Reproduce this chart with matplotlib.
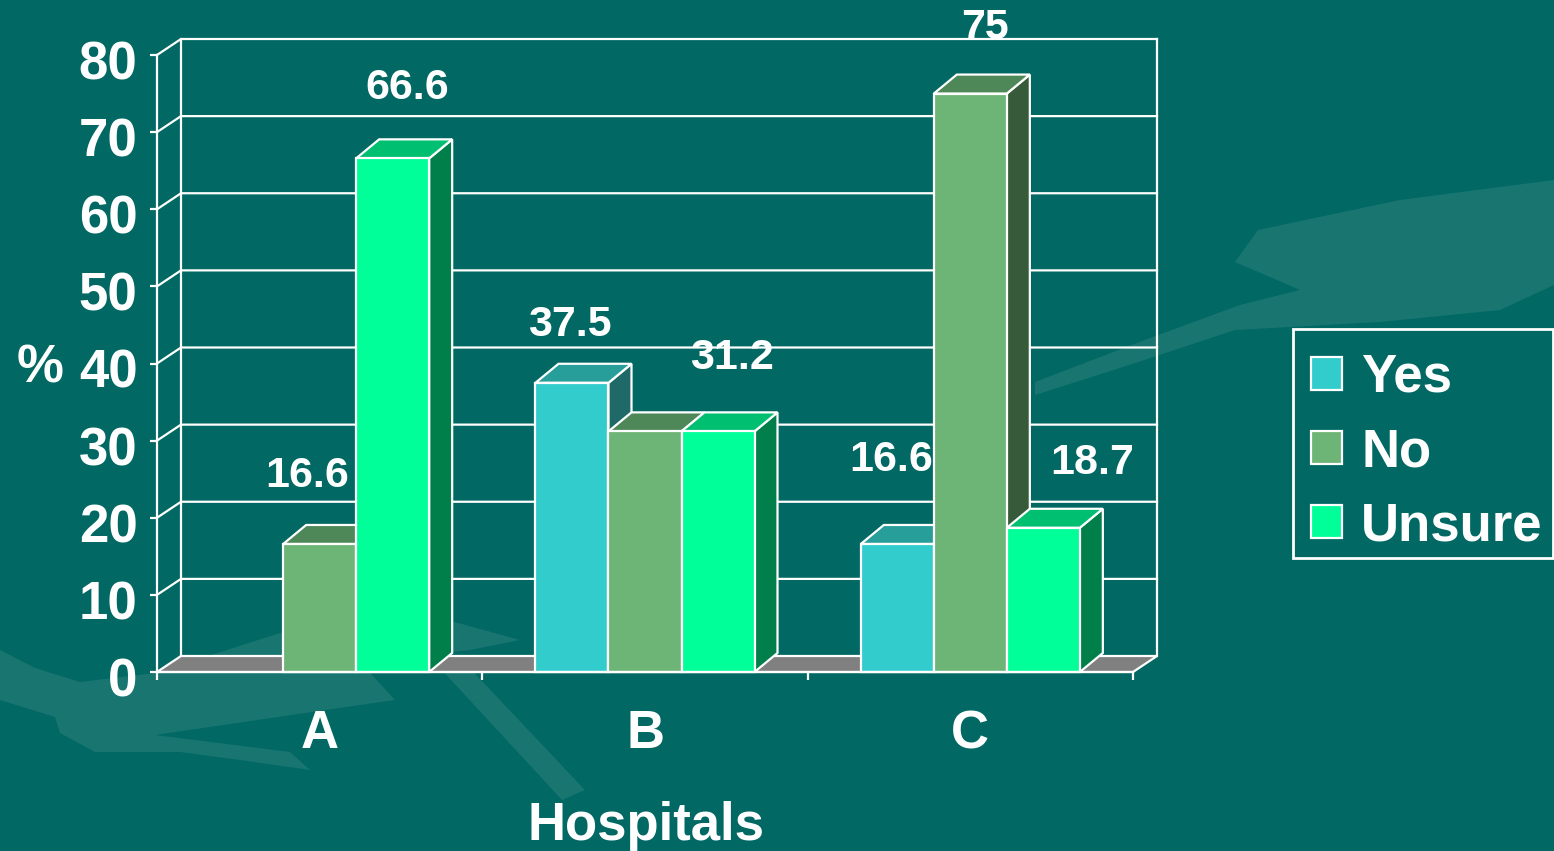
import matplotlib
matplotlib.use("Agg")
import matplotlib.pyplot as plt
from matplotlib.patches import Polygon, Rectangle, Patch
from matplotlib.transforms import ScaledTranslation

plt.rcParams['font.family'] = ['Liberation Sans', 'DejaVu Sans']

# ---------------- data ----------------
categories = ['A', 'B', 'C']
series_names = ['Yes', 'No', 'Unsure']
yes_vals = [0, 37.5, 16.6]
no_vals = [16.6, 31.2, 75]
unsure_vals = [66.6, 31.2, 18.7]
yes_labels = ['', '37.5', '16.6']
no_labels = ['16.6', '', '75']
unsure_labels = ['66.6', '31.2', '18.7']
y_ticks = [0, 10, 20, 30, 40, 50, 60, 70, 80]
x_title = 'Hospitals'
y_title = '%'

# ---------------- layout / style ----------------
W, H = 1554, 851
BG = '#016863'
DECO = '#217a75'
FS = 38
front_cols = ['#33CCCC', '#6DB577', '#00FF99']
top_cols = ['#279E9A', '#4F8858', '#00BF70']
side_cols = ['#1F6A68', '#375B3A', '#007F4A']
# label offsets in pixels (dx, dy) relative to bar top centre
yes_off = [(0, 0), (-2, 58), (-6, 84)]
no_off = [(-13, 68), (0, 0), (15, 66)]
unsure_off = [(15, 70), (14, 73), (49, 65)]

fig = plt.figure(figsize=(W / 100, H / 100), dpi=100, facecolor=BG)

# subtle background decoration (behind the chart)
deco = [
    [(1035, 395), (1035, 382), (1150, 338), (1240, 305), (1300, 290), (1235, 262), (1258, 230),
     (1400, 200), (1554, 180), (1554, 285), (1500, 310), (1380, 322), (1235, 330), (1120, 368)],
    [(0, 650), (35, 668), (80, 682), (155, 673), (280, 633), (360, 662), (395, 700), (360, 705),
     (155, 735), (290, 752), (310, 770), (240, 760), (180, 752), (95, 752), (60, 733), (55, 717), (0, 700)],
    [(440, 668), (462, 660), (585, 790), (562, 800)],
    [(280, 633), (440, 618), (520, 640), (470, 650), (360, 662)],
]
for poly in deco:
    fig.patches.append(Polygon([(x / W, 1 - y / H) for x, y in poly], closed=True,
                               transform=fig.transFigure, facecolor=DECO, alpha=0.75,
                               edgecolor='none', zorder=-5))

ax = fig.add_axes([157 / W, (H - 672) / H, 976 / W, 617 / H])
ax.set_zorder(2)
ax.set_facecolor('none')
ax.set_xlim(0, 3)
ax.set_ylim(0, 80)

pxx = 976 / 3.0
pxy = 617 / 80.0
wdx, wdy = 24 / pxx, 16 / pxy     # wall/floor depth
bdx, bdy = 23 / pxx, 19 / pxy     # bar depth
gap = 0.1634
bw = 0.2244
lw = 1.6

# back wall gridlines
for v in y_ticks[1:]:
    ax.plot([0, wdx, 3 + wdx], [v, v + wdy, v + wdy], color='white', lw=lw, zorder=1, clip_on=False)
for xb in [wdx, 3 + wdx]:
    ax.plot([xb, xb], [wdy, 80 + wdy], color='white', lw=lw, zorder=1, clip_on=False)

# floor
ax.add_patch(Polygon([(0, 0), (3, 0), (3 + wdx, wdy), (wdx, wdy)], closed=True,
                     facecolor='#808080', edgecolor='white', lw=lw, zorder=2, clip_on=False))

all_vals = [yes_vals, no_vals, unsure_vals]
all_labels = [yes_labels, no_labels, unsure_labels]
all_offs = [yes_off, no_off, unsure_off]

z = 3
for i in range(len(categories)):
    for j in range(3):
        v = all_vals[j][i]
        if v <= 0:
            continue
        x0 = i + gap + j * bw
        ax.add_patch(Polygon([(x0 + bw, 0), (x0 + bw + bdx, bdy), (x0 + bw + bdx, v + bdy), (x0 + bw, v)],
                             closed=True, facecolor=side_cols[j], edgecolor='white', lw=lw,
                             zorder=z, clip_on=False))
        ax.add_patch(Polygon([(x0, v), (x0 + bw, v), (x0 + bw + bdx, v + bdy), (x0 + bdx, v + bdy)],
                             closed=True, facecolor=top_cols[j], edgecolor='white', lw=lw,
                             zorder=z, clip_on=False))
        ax.add_patch(Rectangle((x0, 0), bw, v, facecolor=front_cols[j], edgecolor='white', lw=lw,
                               zorder=z, clip_on=False))
        z += 1

for i in range(len(categories)):
    for j in range(3):
        t = all_labels[j][i]
        if not t:
            continue
        v = all_vals[j][i]
        x0 = i + gap + j * bw
        ax.annotate(t, xy=(x0 + bw / 2, v), xytext=all_offs[j][i], textcoords='offset pixels',
                    ha='center', va='center', fontsize=31, fontweight='bold', color='white',
                    zorder=60, annotation_clip=False)

# axes styling
for s in ['top', 'right']:
    ax.spines[s].set_visible(False)
for s in ['left', 'bottom']:
    ax.spines[s].set_color('white')
    ax.spines[s].set_linewidth(lw)
    ax.spines[s].set_zorder(40)

ax.set_yticks(y_ticks)
ax.set_yticklabels([str(v) for v in y_ticks], fontsize=FS, fontweight='bold', color='white')
ax.tick_params(axis='y', length=5, width=lw, color='white', pad=9)
shift = ScaledTranslation(0, -5 / 100, fig.dpi_scale_trans)
for lab in ax.get_yticklabels():
    lab.set_transform(lab.get_transform() + shift)

ax.set_xticks([0, 1, 2, 3])
ax.set_xticklabels([])
ax.tick_params(axis='x', which='major', length=6, width=lw, color='white', direction='out')
ax.set_xticks([0.5, 1.5, 2.5], minor=True)
ax.set_xticklabels(categories, minor=True, fontsize=FS, fontweight='bold', color='white')
ax.tick_params(axis='x', which='minor', length=0, pad=27)

ax.set_ylabel(y_title, rotation=0, fontsize=FS, fontweight='bold', color='white', va='center', ha='center')
ax.yaxis.set_label_coords(-0.12, 0.492)
ax.set_xlabel(x_title, fontsize=FS, fontweight='bold', color='white', va='center', ha='center')
ax.xaxis.set_label_coords(0.501, -0.25)

# legend
fig.patches.append(Rectangle((1293 / W, 1 - 558 / H), (1553 - 1293) / W, (558 - 329) / H,
                             transform=fig.transFigure, facecolor='none', edgecolor='white',
                             lw=2, zorder=5))
handles = [Patch(facecolor=c, edgecolor='white', linewidth=lw) for c in front_cols]
leg = ax.legend(handles, series_names, loc='upper left', bbox_to_anchor=(1293 / W, 1 - 335 / H),
                bbox_transform=fig.transFigure, borderaxespad=0, prop={'size': FS, 'weight': 'bold'},
                labelcolor='white', frameon=False,
                handlelength=0.58, handleheight=0.58, handletextpad=0.37, labelspacing=0.46,
                borderpad=0.34)

fig.savefig('out.png', dpi=100, facecolor=BG)
